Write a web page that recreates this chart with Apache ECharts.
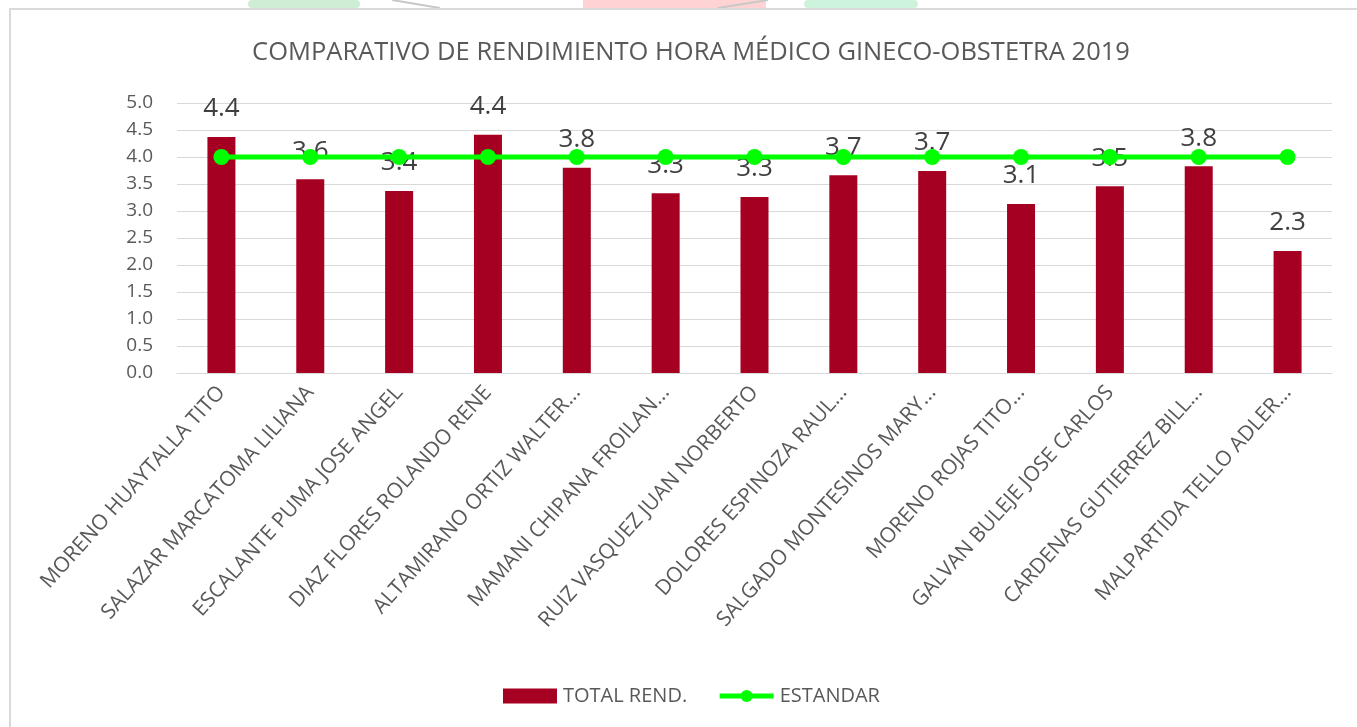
<!DOCTYPE html>
<html>
<head>
<meta charset="utf-8">
<title>Rendimiento hora médico Gineco-Obstetra 2019</title>
<script src="https://cdn.jsdelivr.net/npm/echarts@6/dist/echarts.min.js"></script>
<style>
  html, body { margin: 0; padding: 0; background: #ffffff; }
  #chart { width: 1357px; height: 727px; }
</style>
</head>
<body>
<div id="chart"></div>
<script>
// Médicos evaluados (eje de categorías)
const medicos = [
  'MORENO HUAYTALLA TITO',
  'SALAZAR MARCATOMA LILIANA',
  'ESCALANTE PUMA JOSE ANGEL',
  'DIAZ FLORES ROLANDO RENE',
  'ALTAMIRANO ORTIZ WALTER...',
  'MAMANI CHIPANA FROILAN...',
  'RUIZ VASQUEZ JUAN NORBERTO',
  'DOLORES ESPINOZA RAUL...',
  'SALGADO MONTESINOS MARY...',
  'MORENO ROJAS TITO...',
  'GALVAN BULEJE JOSE CARLOS',
  'CARDENAS GUTIERREZ BILL...',
  'MALPARTIDA TELLO ADLER...'
];

// Rendimiento total por hora médico
const totalRend = [4.37, 3.59, 3.37, 4.41, 3.80, 3.33, 3.26, 3.66, 3.74, 3.13, 3.46, 3.83, 2.26];

// Estándar de referencia
const estandar = [4, 4, 4, 4, 4, 4, 4, 4, 4, 4, 4, 4, 4];

// Marcas del eje de valores
const yMin = 0, yMax = 5, yStep = 0.5;

const FONT = '"Open Sans", "Noto Sans", sans-serif';
const chart = echarts.init(document.getElementById('chart'), null, { renderer: 'canvas' });

chart.setOption({
  backgroundColor: '#ffffff',
  animation: false,
  textStyle: { fontFamily: FONT },
  title: {
    text: 'COMPARATIVO DE RENDIMIENTO HORA MÉDICO GINECO-OBSTETRA 2019',
    left: 686,
    textAlign: 'center',
    top: 35,
    textStyle: { fontFamily: FONT, fontSize: 25.5, fontWeight: 'normal', color: '#595959' }
  },
  graphic: [
    // fragmentos del logotipo de fondo sobre el marco
    { type: 'rect', z: -1, shape: { x: 248, y: 0, width: 112, height: 8, r: 4 }, style: { fill: '#cdeed4' } },
    { type: 'rect', z: -1, shape: { x: 583, y: 0, width: 183, height: 8 }, style: { fill: '#ffd3d3' } },
    { type: 'rect', z: -1, shape: { x: 804, y: 0, width: 114, height: 8, r: 4 }, style: { fill: '#cdf3dc' } },
    { type: 'line', z: -1, shape: { x1: 392, y1: 0, x2: 440, y2: 8 }, style: { stroke: '#c8c8c8', lineWidth: 2 } },
    { type: 'line', z: -1, shape: { x1: 718, y1: 8, x2: 768, y2: 0 }, style: { stroke: '#c8c8c8', lineWidth: 2 } },
    // marco del gráfico
    { type: 'rect', shape: { x: 10, y: 9, width: 1360, height: 730 }, style: { fill: 'none', stroke: '#d9d9d9', lineWidth: 2 } }
  ],
  legend: {
    top: 681,
    left: 498,
    itemWidth: 54,
    itemHeight: 15,
    itemGap: 30,
    textStyle: { fontFamily: FONT, fontSize: 20, color: '#595959', padding: [0, 0, 0, 1] },
    data: [
      { name: 'TOTAL REND.', icon: 'rect' },
      { name: 'ESTANDAR', lineStyle: { width: 5, color: '#00FF00' }, itemStyle: { color: '#00FF00' } }
    ]
  },
  grid: { left: 177, right: 25, top: 103, bottom: 354, containLabel: false },
  xAxis: {
    type: 'category',
    data: medicos,
    axisLine: { show: true, lineStyle: { color: '#d9d9d9', width: 1 } },
    axisTick: { show: false },
    axisLabel: {
      interval: 0,
      rotate: 48,
      margin: 16,
      fontFamily: FONT,
      fontSize: 21,
      color: '#595959'
    }
  },
  yAxis: {
    type: 'value',
    min: yMin,
    max: yMax,
    interval: yStep,
    axisLine: { show: false },
    axisTick: { show: false },
    splitLine: { lineStyle: { color: '#d9d9d9', width: 1 } },
    axisLabel: {
      margin: 24,
      fontFamily: FONT,
      fontSize: 19,
      color: '#595959',
      formatter: v => v.toFixed(1)
    }
  },
  series: [
    {
      name: 'TOTAL REND.',
      type: 'bar',
      data: totalRend,
      barWidth: 28,
      itemStyle: { color: '#A50021' },
      label: {
        show: true,
        position: 'top',
        distance: 15,
        fontFamily: FONT,
        fontSize: 26,
        color: '#404040',
        formatter: p => p.value.toFixed(1)
      },
      z: 2
    },
    {
      name: 'ESTANDAR',
      type: 'line',
      data: estandar,
      symbol: 'circle',
      symbolSize: 16,
      lineStyle: { color: '#00FF00', width: 5 },
      itemStyle: { color: '#00FF00' },
      z: 3
    }
  ]
});
</script>
</body>
</html>
